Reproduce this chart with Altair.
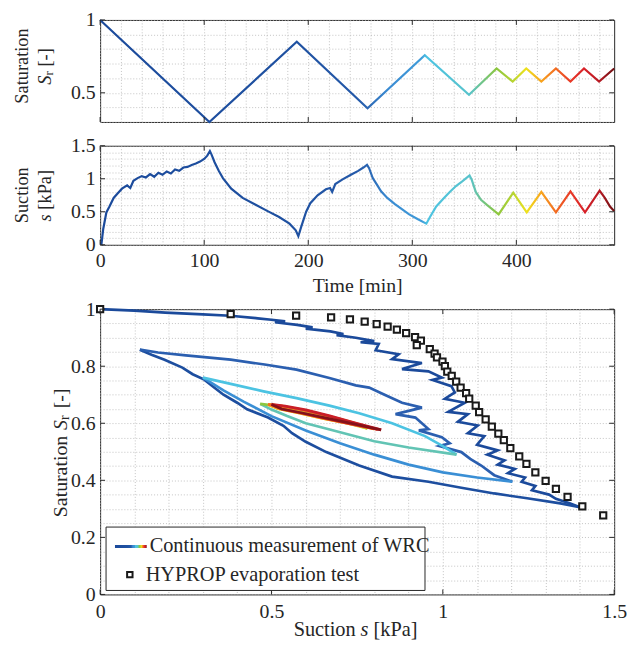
import altair as alt
import pandas as pd

FONT = "Liberation Serif"
FS = 20          # tick labels and axis titles
FS_LEG = 20.5    # legend
FS_Y = 18.5      # rotated y titles of the time panels
TXT = "#262626"
GRID = "#b4b4b4"

# ---------------- data ----------------
sr_time = [0, 105, 189, 257, 312, 354.5, 381, 396.5, 409.5, 424, 438, 452, 465, 479.5, 494]
sr_value = [1.0, 0.30, 0.85, 0.394, 0.758, 0.487, 0.667, 0.577, 0.667, 0.577, 0.667, 0.577, 0.667, 0.577, 0.667]

suc_time = [1.2, 3, 6, 9, 13, 17, 21, 26, 29, 32, 36, 40, 44, 48, 52, 56, 60, 64, 68, 72, 76, 80, 84,
            88, 92, 96, 100, 103, 105.5, 107, 110, 114, 118, 126, 137, 149, 161, 172, 182, 188, 190.5,
            193, 198, 202, 209, 217, 221, 223, 226, 233, 241, 248, 253, 256.5, 258.5, 262, 266, 270,
            276, 283, 290, 297, 305, 313.5, 317, 323, 330, 336, 342, 348, 355, 357, 361, 366, 372,
            383, 397, 410, 424, 438, 452, 466, 480, 485, 490, 494]
suc_value = [0.0, 0.24, 0.49, 0.58, 0.71, 0.78, 0.85, 0.90, 0.86, 0.97, 1.01, 1.04, 1.02, 1.07, 1.03,
             1.09, 1.06, 1.11, 1.08, 1.14, 1.12, 1.17, 1.18, 1.21, 1.23, 1.26, 1.30, 1.35, 1.42, 1.37,
             1.25, 1.12, 1.01, 0.85, 0.71, 0.61, 0.51, 0.42, 0.32, 0.22, 0.13, 0.26, 0.50, 0.63, 0.75,
             0.84, 0.86, 0.80, 0.92, 0.99, 1.06, 1.12, 1.17, 1.21, 1.16, 1.01, 0.91, 0.81, 0.71, 0.62,
             0.54, 0.46, 0.39, 0.32, 0.42, 0.58, 0.70, 0.80, 0.89, 0.96, 1.05, 0.99, 0.80, 0.68, 0.60,
             0.46, 0.79, 0.49, 0.80, 0.49, 0.81, 0.49, 0.82, 0.71, 0.58, 0.51]

hyp_s = [0.0, 0.381, 0.572, 0.674, 0.729, 0.772, 0.807, 0.839, 0.866, 0.893, 0.919, 0.936, 0.924,
         0.962, 0.976, 0.983, 0.999, 1.006, 1.013, 1.026, 1.039, 1.052, 1.068, 1.077, 1.096, 1.106,
         1.125, 1.143, 1.162, 1.178, 1.197, 1.223, 1.244, 1.270, 1.300, 1.330, 1.364, 1.407, 1.468]
hyp_sr = [1.0, 0.983, 0.977, 0.971, 0.964, 0.956, 0.948, 0.939, 0.928, 0.916, 0.902, 0.890, 0.874,
          0.860, 0.844, 0.831, 0.816, 0.800, 0.781, 0.766, 0.746, 0.725, 0.706, 0.686, 0.662, 0.639,
          0.614, 0.588, 0.564, 0.541, 0.513, 0.484, 0.458, 0.428, 0.398, 0.370, 0.342, 0.309, 0.277]

branch_names = ["b01", "b02", "b03", "b04", "b05", "b06", "b07", "b08", "b09", "b10", "b11", "b12", "b13", "b14"]
branch_colors = ["#1b4a9b", "#1d4e9f", "#2b5fb0", "#3a8fd5", "#4cc3e2", "#62c4b4", "#8cc63f",
                 "#c6d82e", "#f0e21c", "#f8a51d", "#f16a22", "#e3312a", "#c91e28", "#85121a"]
wrc_s = [
    [0.0, 0.10, 0.19, 0.30, 0.38, 0.46, 0.50, 0.54, 0.51, 0.575, 0.62, 0.60, 0.672, 0.71, 0.69, 0.746,
     0.80, 0.76, 0.813, 0.804, 0.871, 0.852, 0.939, 0.881, 0.958, 0.997, 0.97, 1.025, 1.035, 1.006,
     1.064, 1.016, 1.073, 1.044, 1.102, 1.073, 1.121, 1.10, 1.16, 1.13, 1.18, 1.16, 1.21, 1.19, 1.24,
     1.23, 1.27, 1.26, 1.31, 1.33, 1.37, 1.40],
    [1.40, 1.343, 1.246, 1.150, 1.054, 0.958, 0.852, 0.756, 0.660, 0.60, 0.56, 0.535, 0.49, 0.429,
     0.40, 0.36, 0.33, 0.304, 0.27, 0.24, 0.188, 0.15, 0.116],
    [0.116, 0.169, 0.25, 0.381, 0.48, 0.573, 0.669, 0.746, 0.785, 0.83, 0.881, 0.939, 0.862, 0.92,
     0.958, 0.93, 0.997, 1.02, 0.99, 1.054, 1.08, 1.112, 1.150, 1.203],
    [1.203, 1.10, 1.0, 0.90, 0.80, 0.70, 0.60, 0.50, 0.42, 0.36, 0.32, 0.30],
    [0.30, 0.381, 0.477, 0.573, 0.669, 0.756, 0.852, 0.948, 1.0, 1.04],
    [1.04, 0.90, 0.80, 0.67, 0.60, 0.544, 0.50, 0.467],
    [0.467, 0.52, 0.58, 0.65, 0.72, 0.78],
    [0.78, 0.72, 0.65, 0.58, 0.52, 0.49],
    [0.49, 0.53, 0.59, 0.66, 0.73, 0.80],
    [0.80, 0.72, 0.65, 0.58, 0.52, 0.49],
    [0.49, 0.53, 0.59, 0.66, 0.73, 0.81],
    [0.81, 0.73, 0.66, 0.59, 0.53, 0.50],
    [0.50, 0.54, 0.60, 0.67, 0.74, 0.82],
    [0.82, 0.74, 0.66, 0.59, 0.53, 0.50],
]
wrc_sr = [
    [1.0, 0.995, 0.988, 0.982, 0.977, 0.968, 0.963, 0.957, 0.954, 0.945, 0.936, 0.932, 0.922, 0.913,
     0.909, 0.900, 0.888, 0.884, 0.878, 0.856, 0.842, 0.825, 0.811, 0.790, 0.782, 0.760, 0.752, 0.730,
     0.708, 0.686, 0.672, 0.640, 0.632, 0.605, 0.592, 0.565, 0.555, 0.525, 0.505, 0.49, 0.47, 0.455,
     0.44, 0.425, 0.41, 0.395, 0.38, 0.365, 0.35, 0.335, 0.32, 0.306],
    [0.306, 0.319, 0.337, 0.354, 0.374, 0.395, 0.413, 0.452, 0.499, 0.535, 0.565, 0.591, 0.62, 0.649,
     0.672, 0.70, 0.728, 0.753, 0.772, 0.795, 0.823, 0.84, 0.858],
    [0.858, 0.848, 0.838, 0.823, 0.806, 0.788, 0.759, 0.733, 0.725, 0.70, 0.672, 0.655, 0.632, 0.62,
     0.580, 0.575, 0.551, 0.53, 0.52, 0.499, 0.475, 0.452, 0.418, 0.395],
    [0.395, 0.41, 0.428, 0.455, 0.49, 0.53, 0.575, 0.625, 0.675, 0.715, 0.745, 0.760],
    [0.760, 0.738, 0.712, 0.688, 0.662, 0.635, 0.600, 0.555, 0.52, 0.490],
    [0.490, 0.515, 0.537, 0.578, 0.60, 0.626, 0.648, 0.668],
    [0.668, 0.660, 0.647, 0.628, 0.606, 0.582],
    [0.582, 0.600, 0.617, 0.636, 0.651, 0.666],
    [0.666, 0.660, 0.647, 0.627, 0.605, 0.580],
    [0.580, 0.600, 0.617, 0.636, 0.651, 0.666],
    [0.666, 0.660, 0.647, 0.627, 0.604, 0.578],
    [0.578, 0.598, 0.616, 0.635, 0.650, 0.666],
    [0.666, 0.660, 0.647, 0.626, 0.603, 0.577],
    [0.577, 0.598, 0.618, 0.636, 0.650, 0.666],
]

# colour map along time (fraction of the time axis)
cmap_pos = [0.0, 0.38, 0.50, 0.52, 0.56, 0.625, 0.635, 0.718, 0.771, 0.803, 0.829, 0.858, 0.887, 0.915, 0.941, 0.971, 1.0]
cmap_col = ["#1b4a9b", "#1f51a1", "#2459a9", "#2b66b3", "#3a8bd2", "#3f9bd9", "#4cc3e2", "#58c3cc",
            "#8cc63f", "#b7d432", "#eee21c", "#f8a41d", "#f26b22", "#e83a27", "#d92229", "#b81b24", "#6d0f12"]

# axes: ticks and grid positions
time_ticks = [0, 100, 200, 300, 400]
time_grid = [0, 20, 40, 60, 80, 100, 120, 140, 160, 180, 200, 220, 240, 260, 280, 300, 320, 340, 360,
             380, 400, 420, 440, 460, 480]
top_ticks = [0.5, 1.0]
top_grid = [0.3, 0.4, 0.5, 0.6, 0.7, 0.8, 0.9, 1.0]
suc_ticks = [0, 0.5, 1.0, 1.5]
suc_grid = [0, 0.1, 0.2, 0.3, 0.4, 0.5, 0.6, 0.7, 0.8, 0.9, 1.0, 1.1, 1.2, 1.3, 1.4, 1.5]
wx_ticks = [0, 0.5, 1.0, 1.5]
wx_grid = [0, 0.1, 0.2, 0.3, 0.4, 0.5, 0.6, 0.7, 0.8, 0.9, 1.0, 1.1, 1.2, 1.3, 1.4, 1.5]
wy_ticks = [0, 0.2, 0.4, 0.6, 0.8, 1.0]
wy_grid = [0, 0.05, 0.1, 0.15, 0.2, 0.25, 0.3, 0.35, 0.4, 0.45, 0.5, 0.55, 0.6, 0.65, 0.7, 0.75, 0.8,
           0.85, 0.9, 0.95, 1.0]

# ---------------- helpers ----------------
W = 519
H_TOP, H_MID, H_BOT = 103, 100, 288
one = pd.DataFrame({"a": [0]})

grad = alt.LinearGradient(
    gradient="linear",
    stops=[alt.GradientStop(offset=o, color=c) for o, c in zip(cmap_pos, cmap_col)],
    x1=0, x2=1, y1=0, y2=0,
)


def axis(values, mult, labels=True, **kw):
    expr = f"abs(datum.value*{mult} - round(datum.value*{mult})) < 0.001 ? format(datum.value, '~g') : ''"
    return alt.Axis(values=values, grid=True, gridDash=[1, 2], gridColor=GRID, gridWidth=0.8,
                    gridOpacity=1, ticks=False, tickSize=0, domain=False, labels=labels,
                    labelExpr=expr, labelFont=FONT, labelFontSize=FS, labelColor=TXT,
                    labelOverlap=False, labelFlush=False, **kw)


def tick_layers(xv, yv, xs, ys, xa, ya, w, h, L=5):
    dx = pd.DataFrame({"v": xv})
    dy = pd.DataFrame({"v": yv})
    bx = alt.Chart(dx).mark_rule(color=TXT, strokeWidth=1)
    by = alt.Chart(dy).mark_rule(color=TXT, strokeWidth=1)
    xx = alt.X("v:Q", scale=xs, axis=xa)
    yy = alt.Y("v:Q", scale=ys, axis=ya)
    return [
        bx.encode(x=xx, y=alt.value(h), y2=alt.value(h - L)),
        bx.encode(x=xx, y=alt.value(0), y2=alt.value(L)),
        by.encode(y=yy, x=alt.value(0), x2=alt.value(L)),
        by.encode(y=yy, x=alt.value(w), x2=alt.value(w - L)),
    ]


def txt(text, x, y, angle=0, align="center", size=FS, italic=False):
    return alt.Chart(one).mark_text(
        text=text, font=FONT, fontSize=size, fontStyle="italic" if italic else "normal",
        angle=angle, align=align, baseline="middle", color=TXT,
    ).encode(x=alt.value(x), y=alt.value(y))


# ---------------- top panel: saturation vs time ----------------
xs_t = alt.Scale(domain=[0, 494], nice=False, zero=False)
ys_top = alt.Scale(domain=[0.3, 1.0], nice=False, zero=False)
ax_top_x = axis(time_grid, 0.01, labels=False, title=None)
ax_top_y = axis(top_grid, 2, labelPadding=5, title=None)
df_sr = pd.DataFrame({"t": sr_time, "sr": sr_value})
top_line = alt.Chart(df_sr).mark_line(stroke=grad, strokeWidth=2.2).encode(
    x=alt.X("t:Q", scale=xs_t, axis=ax_top_x),
    y=alt.Y("sr:Q", scale=ys_top, axis=ax_top_y),
)
top = alt.layer(
    top_line,
    *tick_layers(time_ticks, top_ticks, xs_t, ys_top, ax_top_x, ax_top_y, W, H_TOP),
    txt("Saturation", -78.5, H_TOP / 2 - 5, angle=270, size=FS_Y),
    txt("S", -56, H_TOP / 2 + 13.8, angle=270, align="left", italic=True, size=FS_Y),
    txt("r", -52, H_TOP / 2 + 4.5, angle=270, align="left", size=13),
    txt("[-]", -56, H_TOP / 2 - 4.5, angle=270, align="left", size=FS_Y),
).properties(width=W, height=H_TOP)

# ---------------- middle panel: suction vs time ----------------
ys_mid = alt.Scale(domain=[0, 1.5], nice=False, zero=False)
ax_mid_x = axis(time_grid, 0.01, labelPadding=6, title="Time [min]", titleFont=FONT,
                titleFontSize=FS, titleColor=TXT, titleFontWeight="normal", titlePadding=5)
ax_mid_y = axis(suc_grid, 2, labelPadding=5, title=None)
df_suc = pd.DataFrame({"t": suc_time, "s": suc_value})
mid_line = alt.Chart(df_suc).mark_line(stroke=grad, strokeWidth=2.2).encode(
    x=alt.X("t:Q", scale=xs_t, axis=ax_mid_x),
    y=alt.Y("s:Q", scale=ys_mid, axis=ax_mid_y),
)
mid = alt.layer(
    mid_line,
    *tick_layers(time_ticks, suc_ticks, xs_t, ys_mid, ax_mid_x, ax_mid_y, W, H_MID),
    txt("Suction", -78.5, H_MID / 2, angle=270, size=FS_Y),
    txt("s", -56, H_MID / 2 + 26.6, angle=270, align="left", italic=True, size=FS_Y),
    txt("[kPa]", -56, H_MID / 2 + 14.5, angle=270, align="left", size=FS_Y),
).properties(width=W, height=H_MID)

# ---------------- bottom panel: WRC ----------------
xs_w = alt.Scale(domain=[0, 1.5], nice=False, zero=False)
ys_w = alt.Scale(domain=[0, 1.0], nice=False, zero=False)
ax_w_x = axis(wx_grid, 2, labelPadding=7, title=None)
ax_w_y = axis(wy_grid, 5, labelPadding=5, title=None)
rows = []
for name, ss, rr in zip(branch_names, wrc_s, wrc_sr):
    for i, (a, b) in enumerate(zip(ss, rr)):
        rows.append({"branch": name, "idx": i, "s": a, "sr": b})
df_w = pd.DataFrame(rows)
df_h = pd.DataFrame({"s": hyp_s, "sr": hyp_sr})

wrc_lines = alt.Chart(df_w).mark_line(strokeWidth=2.7).encode(
    x=alt.X("s:Q", scale=xs_w, axis=ax_w_x),
    y=alt.Y("sr:Q", scale=ys_w, axis=ax_w_y),
    color=alt.Color("branch:N", scale=alt.Scale(domain=branch_names, range=branch_colors), legend=None),
    detail="branch:N",
    order="idx:Q",
)
hyp_pts = alt.Chart(df_h).mark_square(size=40, fill="white", stroke="#1a1a1a", strokeWidth=2, opacity=1).encode(
    x=alt.X("s:Q", scale=xs_w, axis=ax_w_x),
    y=alt.Y("sr:Q", scale=ys_w, axis=ax_w_y),
)
leg_box = alt.Chart(one).mark_rect(fill="white", stroke=TXT, strokeWidth=1).encode(
    x=alt.value(6), x2=alt.value(328), y=alt.value(220), y2=alt.value(284))
leg_line = alt.Chart(one).mark_rect(fill=grad).encode(
    x=alt.value(15), x2=alt.value(47), y=alt.value(238), y2=alt.value(241))
leg_sq = alt.Chart(one).mark_square(size=30, fill="white", stroke="#1a1a1a", strokeWidth=2, opacity=1).encode(
    x=alt.value(30), y=alt.value(268))

bot = alt.layer(
    wrc_lines,
    hyp_pts,
    *tick_layers(wx_ticks, wy_ticks, xs_w, ys_w, ax_w_x, ax_w_y, W, H_BOT),
    leg_box, leg_line, leg_sq,
    txt("Continuous measurement of WRC", 50, 239, align="left", size=FS_LEG),
    txt("HYPROP evaporation test", 46, 268, align="left", size=FS_LEG),
    txt("Suction", 258, H_BOT + 36, align="right", size=FS_LEG),
    txt("s", 263, H_BOT + 36, align="left", italic=True, size=FS_LEG),
    txt("[kPa]", 276, H_BOT + 36, align="left", size=FS_LEG),
    txt("Saturation", -39, 210, angle=270, align="left", size=FS),
    txt("S", -39, 122, angle=270, align="left", italic=True, size=FS),
    txt("r", -35, 112, angle=270, align="left", size=14),
    txt("[-]", -39, 100, angle=270, align="left", size=FS),
).properties(width=W, height=H_BOT)

chart = alt.vconcat(top, mid, bot, spacing=2).configure_view(
    stroke=TXT, strokeWidth=1
).properties(padding={"left": 5, "top": -2, "right": 5, "bottom": 2})

chart.save("out.html", embed_options={"renderer": "svg", "actions": False})
